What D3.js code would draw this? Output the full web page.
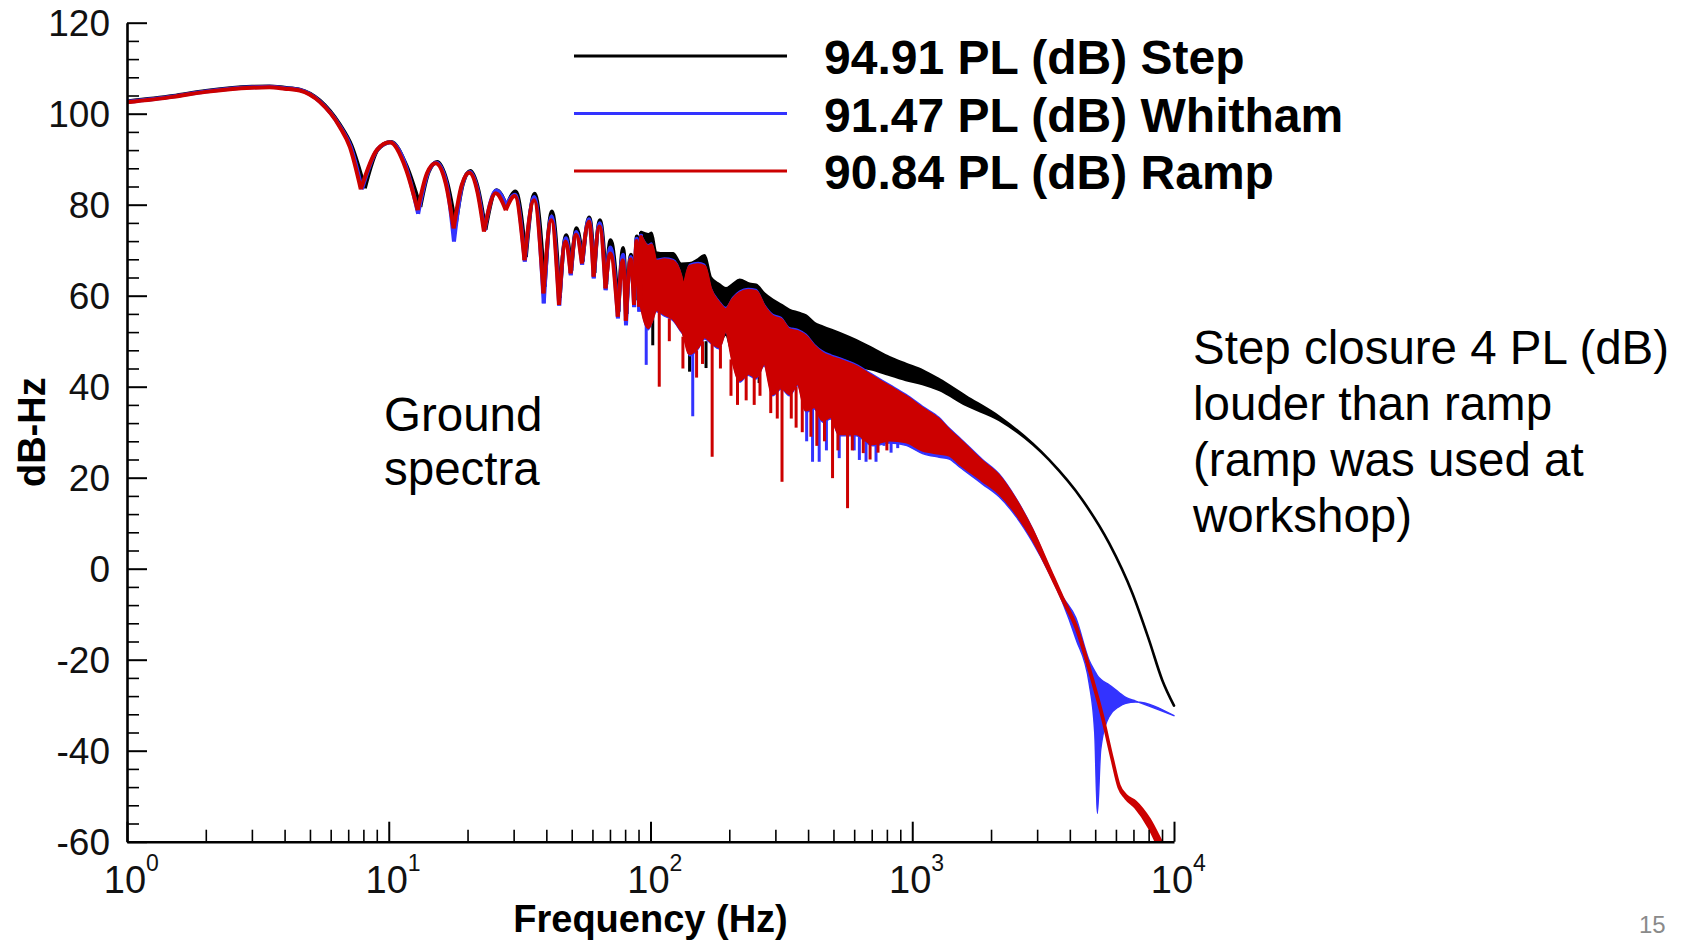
<!DOCTYPE html>
<html>
<head>
<meta charset="utf-8">
<script src="https://cdn.jsdelivr.net/npm/d3@7"></script>
<style>
  html, body { margin: 0; padding: 0; background: #fff; }
  svg { display: block; font-family: "Liberation Sans", Arial, Helvetica, sans-serif; }
</style>
</head>
<body>
<div id="chart"></div>
<script>
// ---------------------------------------------------------------------------
// Data

const yTicks = [-60, -40, -20, 0, 20, 40, 60, 80, 100, 120];
const xDecades = [0, 1, 2, 3, 4];

const seriesNames = ['94.91 PL (dB) Step', '91.47 PL (dB) Whitham', '90.84 PL (dB) Ramp'];
const seriesColors = ['#000000', '#3333ff', '#cc0000'];

// low frequency lobes: [Hz, dB]
const stepLobes = [
  [1.0, 102.7], [1.5, 103.9], [2.0, 105.0], [3.0, 105.9], [3.5, 106.0], [4.0, 105.7],
  [4.57, 105.3], [5.45, 102.9], [6.5, 97.6], [7.2, 93.0], [8.1, 83.6], [9.1, 92.2],
  [10.2, 93.8], [11.7, 88.5], [13.2, 79.5], [14.2, 87.2], [15.3, 89.4], [16.7, 85.0],
  [18.0, 75.5], [19.2, 84.6], [20.5, 87.4], [22.0, 83.2], [23.4, 74.5], [25.8, 83.2],
  [28.2, 79.6], [30.5, 82.9], [33.4, 68.5], [36.1, 82.4], [39.4, 62.0], [42.0, 78.5],
  [45.0, 59.5], [47.6, 73.3], [49.8, 65.5], [52.2, 74.8], [55.0, 67.5], [58.4, 77.2],
  [61.0, 65.0], [64.1, 76.6], [67.7, 62.5], [70.4, 72.2], [75.4, 56.5], [78.6, 70.5],
  [80.9, 56.0], [84.2, 69.0], [86.9, 59.0], [88.7, 73.0], [90.9, 58.5], [92.0, 74.0]
];
const whithamLobes = [
  [1.0, 102.6], [1.5, 103.8], [2.0, 104.9], [3.0, 105.8], [3.5, 105.9], [4.0, 105.6],
  [4.57, 105.2], [5.45, 102.7], [6.5, 97.3], [7.15, 92.8], [7.9, 83.4], [9.05, 92.1],
  [10.15, 93.7], [11.65, 88.3], [12.95, 78.0], [14.1, 87.0], [15.2, 89.2], [16.6, 84.8],
  [17.75, 71.9], [19.1, 84.4], [20.4, 87.2], [21.9, 83.0], [23.2, 74.3], [25.7, 83.1],
  [28.1, 79.9], [30.4, 82.2], [33.1, 67.5], [36.0, 81.7], [39.1, 58.3], [41.9, 77.4],
  [44.8, 57.8], [47.5, 72.6], [49.6, 64.5], [52.1, 74.0], [54.8, 66.8], [58.3, 76.8],
  [60.7, 63.8], [64.0, 75.9], [67.4, 61.2], [70.3, 70.6], [75.1, 55.0], [78.5, 69.0],
  [80.6, 53.5], [84.1, 68.5], [86.6, 57.5], [88.6, 72.5], [90.6, 56.5], [92.0, 73.5]
];
const rampLobes = [
  [1.0, 102.5], [1.5, 103.7], [2.0, 104.8], [3.0, 105.7], [3.5, 105.8], [4.0, 105.5],
  [4.57, 105.1], [5.45, 102.6], [6.5, 97.1], [7.1, 92.7], [7.82, 83.4], [9.0, 92.0],
  [10.1, 93.7], [11.6, 88.0], [12.9, 78.8], [14.0, 86.9], [15.1, 89.1], [16.5, 84.7],
  [17.7, 74.8], [19.0, 84.3], [20.3, 87.0], [21.8, 82.9], [23.1, 74.1], [25.6, 82.5],
  [28.0, 78.8], [30.3, 81.9], [33.0, 67.8], [35.9, 81.0], [39.0, 60.5], [41.8, 76.6],
  [44.7, 58.0], [47.4, 71.9], [49.5, 64.9], [52.0, 73.4], [54.7, 67.1], [58.2, 76.3],
  [60.6, 64.2], [63.9, 75.2], [67.3, 61.6], [70.2, 69.3], [75.0, 55.4], [78.4, 67.8],
  [80.5, 54.5], [84.0, 68.0], [86.5, 58.0], [88.5, 72.0], [90.5, 57.6], [92.0, 73.0]
];

// dense part of the spectra: [Hz, upper dB, lower dB]
const stepBand = [
  [92, 74.0, 60.0], [98, 73.5, 57.0], [101, 73.8, 58.0], [105, 69.5, 57.0], [113, 69.3, 56.5],
  [122, 69.3, 56.0], [131, 67.0, 53.0], [141, 67.1, 48.5], [152, 68.0, 50.0], [161, 68.9, 51.0],
  [170, 64.0, 50.0], [183, 62.5, 50.0], [194, 61.6, 51.5], [206, 62.5, 47.0], [219, 63.5, 45.0],
  [239, 62.6, 44.0], [253, 62.4, 44.0], [272, 60.5, 46.0], [293, 59.1, 47.0], [316, 58.0, 48.5],
  [339, 56.9, 49.5], [370, 56.2, 49.5], [393, 55.6, 49.0], [423, 54.0, 47.5], [455, 53.2, 47.0],
  [526, 51.8, 45.5], [610, 50.2, 44.5], [705, 48.4, 43.8], [817, 46.5, 42.6], [946, 45.0, 41.5],
  [1095, 43.6, 40.6], [1268, 41.6, 39.3], [1603, 37.9, 36.0], [2148, 33.4, 32.7],
  [3335, 23.9, 23.9], [4467, 15.1, 15.1], [5650, 5.6, 5.6], [6933, -5.4, -5.4],
  [8030, -15.7, -15.7], [9020, -24.5, -24.5], [10000, -30.1, -30.1]
];
const whithamBand = [
  [92, 73.5, 57.5], [98, 71.2, 52.5], [101, 71.6, 54.0], [105, 68.0, 56.5], [113, 68.3, 55.5],
  [122, 68.0, 54.5], [131, 64.5, 52.0], [133, 62.5, 51.5], [141, 66.9, 46.8], [152, 67.3, 48.3],
  [161, 66.9, 50.5], [170, 61.8, 49.5], [183, 58.8, 48.3], [194, 57.4, 52.0], [206, 59.6, 45.4],
  [219, 61.0, 41.0], [236, 61.6, 42.5], [253, 61.4, 41.7], [272, 58.1, 44.6], [293, 55.9, 38.0],
  [316, 55.2, 39.5], [339, 53.0, 38.0], [365, 52.6, 40.2], [393, 51.5, 34.4], [423, 49.3, 35.1],
  [455, 47.8, 32.2], [489, 47.0, 32.9], [526, 46.4, 29.2], [610, 44.9, 29.2], [705, 42.7, 27.0],
  [817, 40.5, 27.6], [946, 38.3, 27.1], [1095, 35.7, 25.3], [1268, 33.2, 24.5], [1384, 30.9, 24.1],
  [1511, 28.9, 22.4], [1854, 24.0, 18.6], [2148, 20.8, 15.8], [2488, 15.5, 11.5], [2871, 9.0, 6.0],
  [3335, 0.4, -1.0], [3747, -6.0, -7.3], [4217, -10.8, -15.4], [4739, -20.1, -25.2],
  [4980, -22.5, -36.2], [5097, -23.5, -53.8], [5248, -24.3, -39.8], [5650, -25.5, -32.5],
  [6166, -27.2, -30.3], [6540, -28.3, -29.6], [7140, -29.1, -29.3], [10000, -32.3, -32.3]
];
const rampBand = [
  [92, 73.0, 58.0], [98, 70.8, 53.0], [101, 71.1, 54.5], [105, 67.5, 57.0], [113, 67.9, 56.0],
  [122, 67.5, 55.0], [131, 64.0, 52.5], [133, 62.0, 52.0], [141, 66.4, 47.3], [152, 66.8, 48.8],
  [161, 66.4, 51.0], [170, 61.3, 50.0], [183, 58.3, 48.8], [194, 56.9, 52.5], [206, 59.1, 45.9],
  [219, 60.5, 41.5], [236, 61.1, 43.0], [253, 60.9, 42.2], [272, 57.6, 45.1], [293, 55.4, 38.5],
  [316, 54.7, 40.0], [339, 52.5, 38.5], [365, 52.1, 40.7], [393, 51.0, 34.9], [423, 48.8, 35.6],
  [455, 47.3, 32.7], [489, 46.5, 33.4], [526, 45.9, 29.7], [610, 44.4, 29.7], [705, 42.2, 27.5],
  [817, 40.0, 28.3], [946, 37.8, 27.9], [1095, 35.2, 26.1], [1268, 32.7, 25.4], [1384, 30.4, 25.0],
  [1511, 28.4, 23.2], [1854, 23.5, 19.4], [2148, 20.3, 16.6], [2488, 15.0, 12.3], [2871, 8.5, 6.8],
  [3335, 0.2, -0.6], [3747, -6.3, -6.8], [4217, -12.4, -12.9], [4878, -24.2, -24.7],
  [5324, -32.2, -32.7], [5816, -41.8, -42.2], [6166, -47.6, -48.1], [6540, -49.8, -50.4],
  [7140, -51.3, -52.5], [8030, -55.0, -56.8], [8895, -59.8, -62.0], [9300, -62.0, -64.0]
];

// deep nulls inside the dense part: [Hz, top dB, bottom dB]
const stepSpikes = [[102, 57, 49.1], [141, 48, 43.3], [163, 50, 44.1], [260, 43, 40.8]];
const whithamSpikes = [
  [96.3, 55, 44.8], [145, 48, 33.5], [395, 38, 28.0], [416, 37, 23.5], [441, 35, 23.5],
  [470, 34, 26.0], [526, 32, 24.3], [600, 30, 26.0], [628, 30, 23.9], [666, 29, 23.5],
  [727, 29, 23.5], [780, 28.5, 27.0], [830, 28.5, 25.5], [880, 28.5, 26.5]
];
const rampSpikes = [
  [108, 57, 40.0], [118, 55, 50.0], [133, 51, 44.0], [150, 48, 42.0], [158, 50, 45.0],
  [172, 50, 24.6], [185, 49, 44.0], [203, 46, 38.0], [215, 43, 36.0], [232, 43, 37.0],
  [249, 43, 36.0], [262, 44, 38.0], [288, 41, 34.2], [305, 40, 33.0], [318, 40, 19.1],
  [345, 39, 33.0], [360, 40, 31.0], [380, 38, 30.0], [410, 36, 29.0], [432, 35, 27.0],
  [462, 33, 28.0], [496, 33, 19.9], [520, 31, 26.0], [566, 30, 13.3], [590, 30, 26.0],
  [650, 29.7, 25.4], [690, 28, 24.0], [740, 28, 25.5], [800, 28.3, 26.0]
];

const groundNote = ['Ground', 'spectra'];
const sideNote = ['Step closure 4 PL (dB)', 'louder than ramp', '(ramp was used at', 'workshop)'];
const pageNumber = '15';

// ---------------------------------------------------------------------------
// Chart

const width = 1690;
const height = 941;

const svg = d3.select('#chart').append('svg')
  .attr('width', width)
  .attr('height', height);

const x = d3.scaleLog().domain([1, 1e4]).range([127, 1174]);
const y = d3.scaleLinear().domain([-60, 120]).range([841.7, 22.7]);

svg.append('defs').append('clipPath').attr('id', 'plot-clip')
  .append('rect')
  .attr('x', x.range()[0])
  .attr('y', y.range()[1] - 10)
  .attr('width', x.range()[1] - x.range()[0] + 10)
  .attr('height', y.range()[0] - y.range()[1] + 10);

const plot = svg.append('g').attr('clip-path', 'url(#plot-clip)');

// split lobes at each null so the nulls stay sharp
function splitAtNulls(points) {
  let parts = [];
  let current = [points[0]];
  for (let i = 1; i < points.length; i++) {
    current.push(points[i]);
    let isNull = i < points.length - 1 &&
      points[i][1] < points[i - 1][1] && points[i][1] < points[i + 1][1];
    if (isNull) {
      parts.push(current);
      current = [points[i]];
    }
  }
  if (current.length > 1) parts.push(current);
  return parts;
}

const lobeLine = d3.line()
  .x(d => x(d[0]))
  .y(d => y(d[1]))
  .curve(d3.curveMonotoneX);

const bandArea = d3.area()
  .x(d => x(d[0]))
  .y0(d => y(d[2]))
  .y1(d => y(d[1]))
  .curve(d3.curveMonotoneX);

function drawSeries(lobes, band, spikes, color, bandStroke) {
  const g = plot.append('g');
  g.selectAll('.lobe')
    .data(splitAtNulls(lobes))
    .enter().append('path')
    .attr('class', 'lobe')
    .attr('d', lobeLine)
    .attr('fill', 'none')
    .attr('stroke', color)
    .attr('stroke-width', 4)
    .attr('stroke-linejoin', 'round');
  g.append('path')
    .datum(band)
    .attr('d', bandArea)
    .attr('fill', color)
    .attr('stroke', color)
    .attr('stroke-width', bandStroke)
    .attr('stroke-linejoin', 'round');
  g.selectAll('.spike')
    .data(spikes)
    .enter().append('line')
    .attr('class', 'spike')
    .attr('x1', d => x(d[0]))
    .attr('x2', d => x(d[0]))
    .attr('y1', d => y(d[1]))
    .attr('y2', d => y(d[2]))
    .attr('stroke', color)
    .attr('stroke-width', 3);
}

drawSeries(stepLobes, stepBand, stepSpikes, seriesColors[0], 2.6);
drawSeries(whithamLobes, whithamBand, whithamSpikes, seriesColors[1], 1.4);
drawSeries(rampLobes, rampBand, rampSpikes, seriesColors[2], 3.2);

// ---------------------------------------------------------------------------
// Axes (ticks point into the plot)

const minorY = d3.range(-60, 121, 4).filter(v => v % 20 !== 0);
const majorX = xDecades.map(p => Math.pow(10, p));
const minorX = [];
xDecades.slice(0, -1).forEach(p => {
  for (let m = 2; m <= 9; m++) minorX.push(m * Math.pow(10, p));
});

const yAxisG = svg.append('g').attr('transform', `translate(${x.range()[0]},0)`);
yAxisG.call(d3.axisRight(y).tickValues(yTicks).tickSize(20).tickSizeOuter(0).tickFormat(''));
yAxisG.append('g')
  .call(d3.axisRight(y).tickValues(minorY).tickSize(12).tickSizeOuter(0).tickFormat(''))
  .select('.domain').remove();

const xAxisG = svg.append('g').attr('transform', `translate(0,${y.range()[0]})`);
xAxisG.call(d3.axisTop(x).tickValues(majorX).tickSize(20).tickSizeOuter(0).tickFormat(''));
xAxisG.append('g')
  .call(d3.axisTop(x).tickValues(minorX).tickSize(12).tickSizeOuter(0).tickFormat(''))
  .select('.domain').remove();

svg.selectAll('.domain').attr('stroke', '#000').attr('stroke-width', 2.6);
yAxisG.selectAll('.tick line').attr('stroke', '#000').attr('stroke-width', 2);
xAxisG.selectAll('.tick line').attr('stroke', '#000').attr('stroke-width', 2);
svg.selectAll('g g .tick line').attr('stroke-width', 1.6);

// y tick labels
svg.append('g').selectAll('text')
  .data(yTicks)
  .enter().append('text')
  .attr('x', 110)
  .attr('y', d => y(d))
  .attr('dy', '0.36em')
  .attr('text-anchor', 'end')
  .attr('font-size', 37)
  .attr('fill', '#111')
  .text(d => d);

// x tick labels, 10 with a superscript power
const xLabels = svg.append('g').selectAll('g')
  .data(xDecades)
  .enter().append('g');
xLabels.append('text')
  .attr('x', d => x(Math.pow(10, d)) - 2)
  .attr('y', 893)
  .attr('text-anchor', 'middle')
  .attr('font-size', 38)
  .attr('fill', '#111')
  .text('10');
xLabels.append('text')
  .attr('x', d => x(Math.pow(10, d)) + 19)
  .attr('y', 871)
  .attr('font-size', 23)
  .attr('fill', '#111')
  .text(d => d);

// axis titles
svg.append('text')
  .attr('x', (x.range()[0] + x.range()[1]) / 2)
  .attr('y', 932)
  .attr('text-anchor', 'middle')
  .attr('font-size', 38)
  .attr('font-weight', 'bold')
  .text('Frequency (Hz)');

svg.append('text')
  .attr('transform', `translate(45,${(y.range()[0] + y.range()[1]) / 2}) rotate(-90)`)
  .attr('text-anchor', 'middle')
  .attr('font-size', 38)
  .attr('font-weight', 'bold')
  .text('dB-Hz');

// ---------------------------------------------------------------------------
// Legend

const legend = svg.append('g').selectAll('g')
  .data(seriesNames)
  .enter().append('g')
  .attr('transform', (d, i) => `translate(0,${56 + i * 57.5})`);
legend.append('line')
  .attr('x1', 574)
  .attr('x2', 787)
  .attr('stroke', (d, i) => seriesColors[i])
  .attr('stroke-width', 3);
legend.append('text')
  .attr('x', 824)
  .attr('y', 18)
  .attr('font-size', 48)
  .attr('font-weight', 'bold')
  .text(d => d);

// ---------------------------------------------------------------------------
// Notes

svg.append('g').selectAll('text')
  .data(groundNote)
  .enter().append('text')
  .attr('x', 384)
  .attr('y', (d, i) => 431 + i * 54)
  .attr('font-size', 47.5)
  .text(d => d);

svg.append('g').selectAll('text')
  .data(sideNote)
  .enter().append('text')
  .attr('x', 1193)
  .attr('y', (d, i) => 364 + i * 56)
  .attr('font-size', 47.5)
  .text(d => d);

svg.append('text')
  .attr('x', 1639)
  .attr('y', 933)
  .attr('font-size', 24)
  .attr('fill', '#8a8a8a')
  .text(pageNumber);
</script>
</body>
</html>
